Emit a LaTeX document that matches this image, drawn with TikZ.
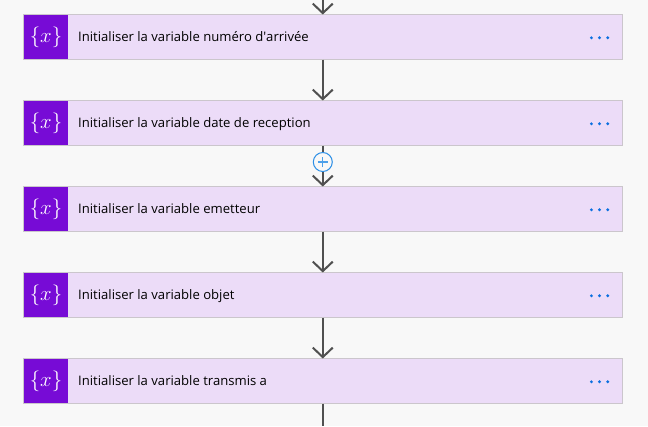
\documentclass[tikz,border=0pt]{standalone}
\usepackage{fontspec}
\setmainfont{Open Sans}
\usetikzlibrary{arrows.meta}
\definecolor{bgc}{HTML}{F8F8F8}
\definecolor{cardc}{HTML}{ECDCF8}
\definecolor{edgec}{HTML}{CBC6CC}
\definecolor{iconc}{HTML}{770BD6}
\definecolor{linkc}{HTML}{505050}
\definecolor{dotc}{HTML}{0A6FE0}
\definecolor{plusc}{HTML}{2C8FE6}
\tikzset{
  x=1pt,y=-1pt,
  card/.style={draw=edgec,line width=1pt,fill=cardc,minimum width=599pt,minimum height=45pt,inner sep=0pt,outer sep=0pt,anchor=north west},
  iconbox/.style={fill=iconc,minimum width=44pt,minimum height=44pt,inner sep=0pt,outer sep=0pt,anchor=west,text=white,font=\fontsize{21.5}{22}\selectfont},
  title/.style={anchor=base west,inner sep=0pt,text=black,font=\fontsize{13.1}{15}\selectfont},
  dotn/.style={circle,fill=dotc,minimum size=3.2pt,inner sep=0pt},
  link/.style={draw=linkc,line width=2pt,-{Straight Barb[width=20pt,length=9.5pt,line width=2pt]}},
  linkend/.style={draw=linkc,line width=2pt},
  plusn/.style={circle,draw=plusc,line width=1pt,fill=bgc,minimum size=19pt,inner sep=0pt},
}
\newcommand{\cardrow}[3]{%
  \node[card] (c#1) at (23.5,#2) {};
  \node[iconbox] (i#1) at ([xshift=0.5pt]c#1.west) {$\{x\}$};
  \node[title] (t#1) at (78,#2+27.2) {#3};
  \node[dotn] (da#1) at (591.4,#2+23.3) {};
  \node[dotn] (db#1) at (599.5,#2+23.3) {};
  \node[dotn] (dc#1) at (607.7,#2+23.3) {};
}
\begin{document}
\begin{tikzpicture}
\useasboundingbox[fill=bgc] (0,0) rectangle (648,426);
\cardrow{1}{14.5}{Initialiser la variable numéro d\textquotesingle arrivée}
\cardrow{2}{100.5}{Initialiser la variable date de reception}
\cardrow{3}{186.5}{Initialiser la variable emetteur}
\cardrow{4}{272.5}{Initialiser la variable objet}
\cardrow{5}{358.5}{Initialiser la variable transmis a}
\coordinate (topend) at (322.8,-2);
\coordinate (botend) at (322.8,426);
\node[plusn] (plus) at (322.8,162) {};
\draw[plusc!85!white,line width=1.3pt] ([xshift=-5pt]plus.center) -- ([xshift=5pt]plus.center) ([yshift=-5pt]plus.center) -- ([yshift=5pt]plus.center);
\path[link] (topend) -- (topend |- c1.north);
\path[link] (topend |- c1.south) -- (topend |- c2.north);
\path[linkend] (topend |- c2.south) -- (plus.north);
\path[link] (plus.south) -- (topend |- c3.north);
\path[link] (topend |- c3.south) -- (topend |- c4.north);
\path[link] (topend |- c4.south) -- (topend |- c5.north);
\path[linkend] (topend |- c5.south) -- (botend);
\end{tikzpicture}
\end{document}
